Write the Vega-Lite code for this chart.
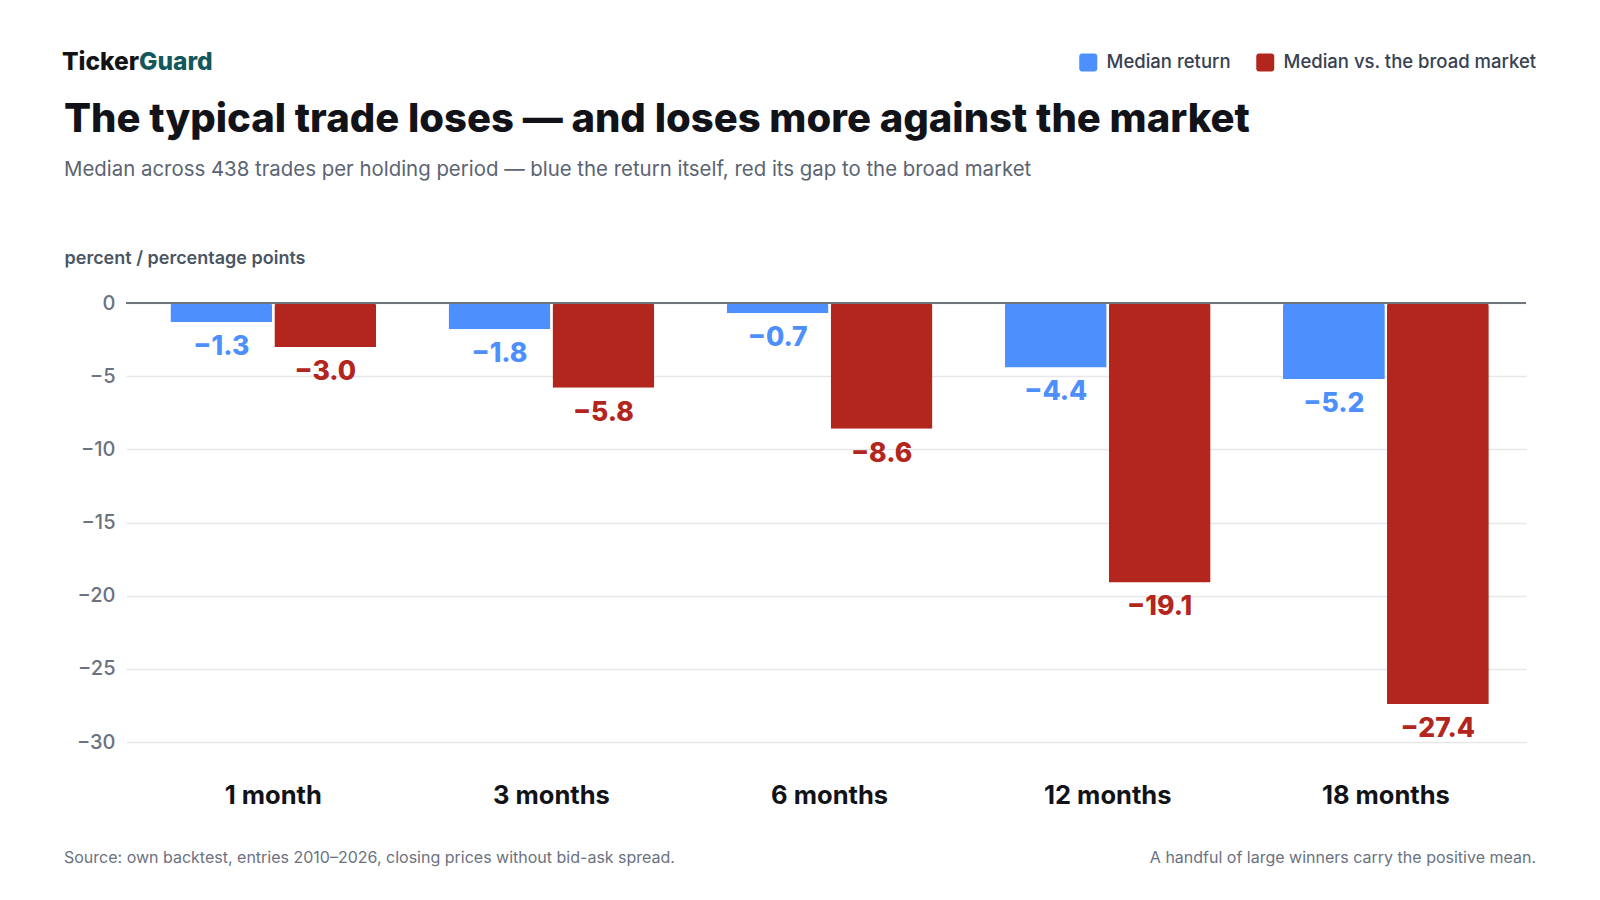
{
  "$schema": "https://vega.github.io/schema/vega-lite/v6.json",
  "autosize": {"type": "none"},
  "width": 1400,
  "height": 439,
  "padding": {"left": 126, "top": 303, "right": 74, "bottom": 158},
  "background": "white",
  "config": {
    "font": "Inter",
    "view": {"stroke": null}
  },
  "layer": [
    {
      "data": {
        "values": [
          {"period": "1 month", "series": "Median return", "value": -1.3},
          {"period": "1 month", "series": "Median vs. the broad market", "value": -3.0},
          {"period": "3 months", "series": "Median return", "value": -1.8},
          {"period": "3 months", "series": "Median vs. the broad market", "value": -5.8},
          {"period": "6 months", "series": "Median return", "value": -0.7},
          {"period": "6 months", "series": "Median vs. the broad market", "value": -8.6},
          {"period": "12 months", "series": "Median return", "value": -4.4},
          {"period": "12 months", "series": "Median vs. the broad market", "value": -19.1},
          {"period": "18 months", "series": "Median return", "value": -5.2},
          {"period": "18 months", "series": "Median vs. the broad market", "value": -27.4}
        ]
      },
      "encoding": {
        "x": {
          "field": "period",
          "type": "nominal",
          "sort": null,
          "scale": {"paddingInner": 0.26, "paddingOuter": 0.1467, "align": 0.544},
          "axis": {
            "title": null,
            "ticks": false,
            "domain": false,
            "labelAngle": 0,
            "labelFont": "Inter",
            "labelFontSize": 25.5,
            "labelFontWeight": "bold",
            "labelColor": "#111318",
            "labelPadding": 41
          }
        },
        "xOffset": {
          "field": "series",
          "sort": null,
          "scale": {"paddingInner": 0.02}
        },
        "y": {
          "field": "value",
          "type": "quantitative",
          "scale": {"domain": [-30, 0], "nice": false},
          "axis": {
            "values": [0, -5, -10, -15, -20, -25, -30],
            "title": "percent / percentage points",
            "titleAngle": 0,
            "titleX": -62,
            "titleY": -45,
            "titleAlign": "left",
            "titleBaseline": "middle",
            "titleFont": "Inter",
            "titleFontSize": 18,
            "titleFontWeight": 600,
            "titleColor": "#4b5563",
            "ticks": false,
            "domain": false,
            "labelFont": "Inter",
            "labelFontSize": 20,
            "labelFontWeight": 500,
            "labelColor": "#6b7280",
            "labelPadding": 11,
            "gridColor": "#e5e7eb",
            "gridWidth": 1.5
          }
        },
        "color": {
          "field": "series",
          "type": "nominal",
          "scale": {
            "domain": ["Median return", "Median vs. the broad market"],
            "range": ["#4d8ffd", "#b3261e"]
          },
          "legend": {
            "title": null,
            "orient": "none",
            "direction": "horizontal",
            "legendX": 953,
            "legendY": -250,
            "symbolType": "M-0.7,-1L0.7,-1A0.3,0.3 0 0 1 1,-0.7L1,0.7A0.3,0.3 0 0 1 0.7,1L-0.7,1A0.3,0.3 0 0 1 -1,0.7L-1,-0.7A0.3,0.3 0 0 1 -0.7,-1Z",
            "symbolSize": 324,
            "symbolStrokeWidth": 0,
            "symbolOpacity": 1,
            "labelFont": "Inter",
            "labelFontSize": 18.5,
            "labelFontWeight": 500,
            "labelColor": "#374151",
            "labelLimit": 0,
            "labelOffset": 9,
            "columnPadding": 25
          }
        }
      },
      "layer": [
        {"mark": {"type": "bar", "cornerRadiusEnd": 3}},
        {
          "mark": {"type": "text", "baseline": "middle", "dy": 25, "fontSize": 26.5, "fontWeight": 800, "font": "Inter"},
          "encoding": {"text": {"field": "value", "type": "quantitative", "format": ".1f"}}
        }
      ]
    },
    {
      "data": {"values": [{"zero": 0}]},
      "mark": {"type": "rule", "color": "#70757d", "strokeWidth": 2},
      "encoding": {"y": {"field": "zero", "type": "quantitative"}}
    },
    {
      "data": {"values": [{"label": "Ticker"}]},
      "mark": {"type": "text", "align": "right", "baseline": "middle", "font": "Inter", "fontSize": 24.5, "fontWeight": 800, "color": "#111318"},
      "encoding": {"text": {"field": "label"}, "x": {"value": 13}, "y": {"value": -240}}
    },
    {
      "data": {"values": [{"label": "Guard"}]},
      "mark": {"type": "text", "align": "left", "baseline": "middle", "font": "Inter", "fontSize": 24.5, "fontWeight": 800, "color": "#12585c"},
      "encoding": {"text": {"field": "label"}, "x": {"value": 13}, "y": {"value": -240}}
    },
    {
      "data": {"values": [{"label": "The typical trade loses — and loses more against the market"}]},
      "mark": {"type": "text", "align": "left", "baseline": "middle", "font": "Inter", "fontSize": 40, "fontWeight": 800, "color": "#111318"},
      "encoding": {"text": {"field": "label"}, "x": {"value": -62}, "y": {"value": -183}}
    },
    {
      "data": {"values": [{"label": "Median across 438 trades per holding period — blue the return itself, red its gap to the broad market"}]},
      "mark": {"type": "text", "align": "left", "baseline": "middle", "font": "Inter", "fontSize": 20.4, "color": "#5b6472"},
      "encoding": {"text": {"field": "label"}, "x": {"value": -62}, "y": {"value": -133}}
    },
    {
      "data": {"values": [{"label": "Source: own backtest, entries 2010–2026, closing prices without bid-ask spread."}]},
      "mark": {"type": "text", "align": "left", "baseline": "middle", "font": "Inter", "fontSize": 16, "color": "#6b7280"},
      "encoding": {"text": {"field": "label"}, "x": {"value": -62}, "y": {"value": 555}}
    },
    {
      "data": {"values": [{"label": "A handful of large winners carry the positive mean."}]},
      "mark": {"type": "text", "align": "right", "baseline": "middle", "font": "Inter", "fontSize": 16, "color": "#6b7280"},
      "encoding": {"text": {"field": "label"}, "x": {"value": 1410}, "y": {"value": 555}}
    }
  ]
}
